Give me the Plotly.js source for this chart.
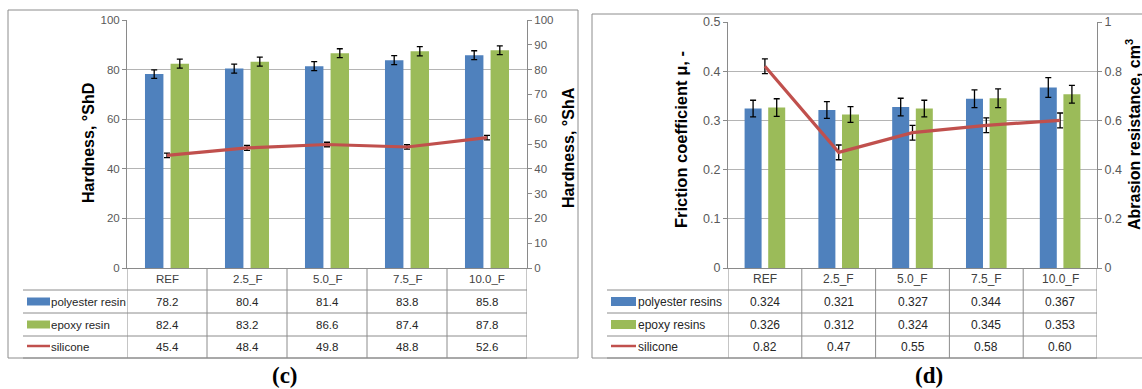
<!DOCTYPE html>
<html><head><meta charset="utf-8">
<script src="https://cdn.plot.ly/plotly-3.0.1.min.js"></script>
<style>html,body{margin:0;padding:0;background:#fff}</style>
</head><body><div id="chart" style="width:1142px;height:389px"></div>
<script>
// ---------- data ----------
const categories = ['REF', '2.5_F', '5.0_F', '7.5_F', '10.0_F'];

// panel (c): hardness
const hardSeriesNames = ['polyester resin', 'epoxy resin', 'silicone'];
const hardPolyester = [78.2, 80.4, 81.4, 83.8, 85.8];
const hardPolyesterErr = [1.7, 1.8, 1.8, 1.8, 1.8];
const hardEpoxy = [82.4, 83.2, 86.6, 87.4, 87.8];
const hardEpoxyErr = [1.8, 1.8, 1.8, 1.9, 1.8];
const hardSilicone = [45.4, 48.4, 49.8, 48.8, 52.6];
const hardSiliconeErr = [0.9, 1.0, 0.9, 0.9, 0.9];

// panel (d): friction / abrasion
const fricSeriesNames = ['polyester resins', 'epoxy resins', 'silicone'];
const fricPolyester = [0.324, 0.321, 0.327, 0.344, 0.367];
const fricPolyesterErr = [0.017, 0.017, 0.018, 0.018, 0.020];
const fricEpoxy = [0.326, 0.312, 0.324, 0.345, 0.353];
const fricEpoxyErr = [0.018, 0.016, 0.017, 0.019, 0.018];
const abrSilicone = [0.82, 0.47, 0.55, 0.58, 0.60];
const abrSiliconeErr = [0.03, 0.03, 0.03, 0.03, 0.03];

// ---------- styling / layout helpers ----------
const W = 1142, H = 389;
const px = x => x / W, py = y => 1 - y / H;
const BLUE = '#4F81BD', GREEN = '#9BBB59', RED = '#C0504D';
const FONT = '"Liberation Sans", Arial, sans-serif';
const GRID = '#b4b4b4', AXIS = '#8a8a8a', BORDER = '#8c8c8c', TICKC = '#595959';

function errBar(arr) {
  return {type: 'data', array: arr, visible: true, color: '#000', thickness: 1.3, width: 3};
}

const traces = [
  {type: 'bar', x: categories, y: hardPolyester, name: hardSeriesNames[0], marker: {color: BLUE},
   error_y: errBar(hardPolyesterErr), xaxis: 'x', yaxis: 'y'},
  {type: 'bar', x: categories, y: hardEpoxy, name: hardSeriesNames[1], marker: {color: GREEN},
   error_y: errBar(hardEpoxyErr), xaxis: 'x', yaxis: 'y'},
  {type: 'scatter', mode: 'lines', x: categories, y: hardSilicone, name: hardSeriesNames[2],
   line: {color: RED, width: 3.2}, error_y: errBar(hardSiliconeErr), xaxis: 'x', yaxis: 'y2'},
  {type: 'bar', x: categories, y: fricPolyester, name: fricSeriesNames[0], marker: {color: BLUE},
   error_y: errBar(fricPolyesterErr), xaxis: 'x2', yaxis: 'y3'},
  {type: 'bar', x: categories, y: fricEpoxy, name: fricSeriesNames[1], marker: {color: GREEN},
   error_y: errBar(fricEpoxyErr), xaxis: 'x2', yaxis: 'y3'},
  {type: 'scatter', mode: 'lines', x: categories, y: abrSilicone, name: fricSeriesNames[2],
   line: {color: RED, width: 3.2}, error_y: errBar(abrSiliconeErr), xaxis: 'x2', yaxis: 'y4'}
];

function xAxis(left, right, anchor) {
  return {domain: [px(left), px(right)], anchor: anchor, type: 'category', range: [-0.5, categories.length - 0.5],
          showticklabels: false, ticks: '', showline: true, linecolor: AXIS, linewidth: 1, showgrid: false,
          zeroline: false, fixedrange: true};
}
function yAxis(top, bottom, anchor, range, dtick, fs, opts) {
  return Object.assign({domain: [py(bottom), py(top)], anchor: anchor, range: range, dtick: dtick,
          tickfont: {family: FONT, size: fs, color: TICKC}, ticks: 'outside', ticklen: 4, tickcolor: AXIS, showline: true,
          linecolor: AXIS, linewidth: 1, gridcolor: GRID, gridwidth: 1, zeroline: false, fixedrange: true}, opts || {});
}

const layout = {
  width: W, height: H, margin: {l: 0, r: 0, t: 0, b: 0}, paper_bgcolor: '#fff', plot_bgcolor: 'rgba(0,0,0,0)',
  showlegend: false, barmode: 'group', bargap: 0.36, bargroupgap: 0.28,
  xaxis: xAxis(127, 527, 'y'),
  yaxis: yAxis(20, 268, 'x', [0, 100], 20, 11.5, {showgrid: true}),
  yaxis2: yAxis(20, 268, 'x', [0, 100], 10, 11.5, {overlaying: 'y', side: 'right', showgrid: false}),
  xaxis2: xAxis(728, 1097, 'y3'),
  yaxis3: yAxis(22, 268, 'x2', [0, 0.5], 0.1, 12.5, {showgrid: true}),
  yaxis4: yAxis(22, 268, 'x2', [0, 1], 0.2, 12.5, {overlaying: 'y3', side: 'right', showgrid: false}),
  shapes: [], annotations: []
};

// ---------- data tables below each chart ----------
const rowEdges = [268, 290, 313, 336, 358];
function buildTable(p) {
  const S = layout.shapes, A = layout.annotations;
  for (let i = 0; i <= categories.length; i++) {
    S.push({type: 'line', xref: p.xa, yref: 'paper', x0: i - 0.5, x1: i - 0.5, y0: py(rowEdges[0]), y1: py(rowEdges[4]),
            line: {color: BORDER, width: 1}});
  }
  for (let r = 1; r < rowEdges.length; r++) {
    S.push({type: 'line', xref: 'paper', yref: 'paper', x0: px(p.legendLeft), x1: px(p.right), y0: py(rowEdges[r]), y1: py(rowEdges[r]),
            line: {color: BORDER, width: 1}});
  }
  categories.forEach(c => A.push({xref: p.xa, yref: 'paper', x: c, y: py((rowEdges[0] + rowEdges[1]) / 2), text: c,
    showarrow: false, font: {family: FONT, size: p.fs, color: '#404040'}, xanchor: 'center', yanchor: 'middle'}));
  p.rows.forEach((row, r) => {
    const yc = (rowEdges[r + 1] + rowEdges[r + 2]) / 2;
    row.vals.forEach((v, i) => A.push({xref: p.xa, yref: 'paper', x: categories[i], y: py(yc), text: v.toFixed(row.dec),
      showarrow: false, font: {family: FONT, size: p.fs, color: '#262626'}, xanchor: 'center', yanchor: 'middle'}));
    A.push({xref: 'paper', yref: 'paper', x: px(p.textX), y: py(yc), text: p.names[r], showarrow: false,
      font: {family: FONT, size: p.fs, color: '#262626'}, xanchor: 'left', yanchor: 'middle'});
    if (row.kind === 'bar') {
      S.push({type: 'rect', xref: 'paper', yref: 'paper', x0: px(p.swL), x1: px(p.swR), y0: py(yc + p.swH / 2), y1: py(yc - p.swH / 2),
              fillcolor: row.color, line: {width: 0}});
    } else {
      S.push({type: 'line', xref: 'paper', yref: 'paper', x0: px(p.swL), x1: px(p.swR), y0: py(yc - 1), y1: py(yc - 1),
              line: {color: row.color, width: 2.5}});
    }
  });
}
buildTable({xa: 'x', right: 527, legendLeft: 23, textX: 49, swL: 27, swR: 50, swH: 8, fs: 11.5, names: hardSeriesNames,
  rows: [{vals: hardPolyester, dec: 1, kind: 'bar', color: BLUE}, {vals: hardEpoxy, dec: 1, kind: 'bar', color: GREEN},
         {vals: hardSilicone, dec: 1, kind: 'line', color: RED}]});
buildTable({xa: 'x2', right: 1097, legendLeft: 607, textX: 636, swL: 611, swR: 636, swH: 9, fs: 12, names: fricSeriesNames,
  rows: [{vals: fricPolyester, dec: 3, kind: 'bar', color: BLUE}, {vals: fricEpoxy, dec: 3, kind: 'bar', color: GREEN},
         {vals: abrSilicone, dec: 2, kind: 'line', color: RED}]});

// outer chart borders
layout.shapes.push({type: 'rect', xref: 'paper', yref: 'paper', x0: px(8), x1: px(578), y0: py(358), y1: py(10), line: {color: BORDER, width: 1}});
layout.shapes.push({type: 'rect', xref: 'paper', yref: 'paper', x0: px(592), x1: px(1160), y0: py(358), y1: py(14), line: {color: BORDER, width: 1}});

// axis titles
function vTitle(x, y, text, fs) {
  layout.annotations.push({xref: 'paper', yref: 'paper', x: px(x), y: py(y), text: '<b>' + text + '</b>', textangle: -90,
    showarrow: false, font: {family: FONT, size: fs, color: '#000'}, xanchor: 'center', yanchor: 'middle'});
}
vTitle(88, 143, 'Hardness, °ShD', 16);
vTitle(568, 148, 'Hardness, °ShA', 16);
vTitle(681, 140, 'Friction coefficient μ, -', 16.5);
vTitle(1133, 135, 'Abrasion resistance, cm<sup>3</sup>', 16);

// panel captions
[['(c)', 285], ['(d)', 929]].forEach(([t, x]) => layout.annotations.push({xref: 'paper', yref: 'paper', x: px(x), y: py(389),
  text: '<b>' + t + '</b>', showarrow: false, font: {family: '"Liberation Serif", "DejaVu Serif", serif', size: 23, color: '#000'},
  xanchor: 'center', yanchor: 'bottom', borderpad: 0}));

Plotly.newPlot('chart', traces, layout, {displayModeBar: false, staticPlot: true});
</script></body></html>
